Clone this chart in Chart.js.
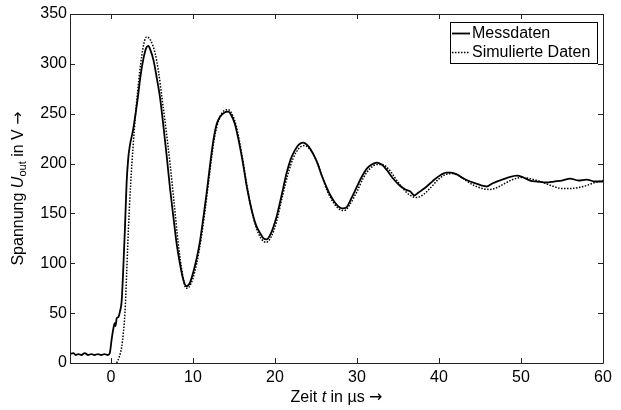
<!DOCTYPE html>
<html><head><meta charset="utf-8">
<script src="https://cdn.jsdelivr.net/npm/chart.js@4.4.1/dist/chart.umd.min.js"></script>
<style>html,body{margin:0;padding:0;background:#fff}#wrap{width:621px;height:410px}</style>
</head><body><div id="wrap"><canvas id="c" width="621" height="410"></canvas></div>
<script>
const xTicks = [0,10,20,30,40,50,60];
const yTicks = [0,50,100,150,200,250,300,350];
const seriesNames = ['Messdaten','Simulierte Daten'];
const xTitle = ['Zeit ', 't', ' in µs ', '→'];
const yTitle = ['Spannung ', 'U', 'out', ' in V ', '→'];

const measX = [-5,-4.6,-4.3,-4.0,-3.6,-3.2,-2.8,-2.4,-2.0,-1.6,-1.2,-0.8,-0.4,-0.15,0.1,0.3,0.45,0.55,0.7,0.9,1.1,1.3,1.5,1.7,1.9,2.1,2.3,2.7,3.0,3.3,3.6,3.95,4.3,4.55,4.8,5.2,5.6,6.0,6.4,6.8,7.2,7.6,8.0,8.4,8.8,9.2,9.6,10.0,10.45,10.85,11.3,11.7,12.1,12.5,12.9,13.3,13.8,14.3,14.7,15.1,15.6,16.1,16.6,17.2,17.7,18.2,18.6,19.0,19.5,20.2,20.8,21.4,21.9,22.4,22.9,23.45,24.0,24.7,25.2,25.7,26.2,26.7,27.3,27.9,28.3,28.7,29.3,30.0,30.6,31.2,31.8,32.4,33.0,33.6,34.4,35.2,35.9,36.5,37.0,37.5,38.2,38.9,39.6,40.3,40.9,41.5,42.2,43.0,43.8,44.5,45.2,45.8,46.5,47.4,48.4,49.5,50.3,51.1,52.0,53.1,54.0,55.0,56.0,57.0,58.0,59.0,60.0];
const measY = [9,10,8,9,8,10,8,9,8,9,8,9,8,10,25,35,40,37,45,46,52,62,95,135,180,205,218,234,250,268,288,305,316,318,314,303,285,265,237,207,175,147,120,100,84,77,80,90,105,122,148,173,200,224,240,247,251,252,248,240,222,200,175,152,138,130,125,124,130,147,168,190,204,213,219,221,218,209,200,188,178,169,161,156,155,156,165,177,187,195,199,201,199,194,185,178,174,172,168,171,175,180,185,189,191,191,189,185,182,180,178,177,180,183,186,188,186,183,182,181,182,183,185,183,184,182,182];

const simX = [0.7,1.0,1.3,1.5,1.7,1.9,2.1,2.4,2.7,3.0,3.5,4.0,4.35,4.8,5.4,5.8,6.2,6.7,7.2,7.7,8.2,8.7,9.15,9.5,10.0,10.45,11.0,11.5,12.1,12.6,13.2,13.8,14.3,14.8,15.3,15.9,16.5,17.1,17.7,18.3,18.9,19.5,20.2,20.9,21.6,22.2,22.9,23.6,24.3,25.0,25.7,26.4,27.2,27.9,28.5,29.2,30.0,30.8,31.6,32.4,33.1,33.9,34.7,35.6,36.5,37.3,38.1,39.0,39.9,40.8,41.6,42.4,43.3,44.3,45.3,46.2,47.1,48.0,49.0,50.0,51.0,52.0,53.0,54.0,55.0,56.0,57.0,58.0,59.0,60.0];
const simY = [0,6,16,30,50,88,130,180,218,250,292,320,327,324,310,292,267,235,200,160,120,90,75,76,85,100,125,155,195,225,245,253,254,249,237,212,182,155,136,125,121,126,142,167,190,205,215,218,214,204,188,172,160,154,153,160,172,186,195,199,199,194,185,175,168,166,169,176,184,189,190,188,183,178,175,174,176,180,184,186,185,183,180,177,175,175,176,178,181,183];

const FONT = '"Liberation Sans", Arial, Helvetica, sans-serif';
const ARROWFONT = '"DejaVu Sans", sans-serif';

function richText(ctx, parts, cx, cy, rotate) {
  ctx.save();
  ctx.translate(cx, cy);
  if (rotate) ctx.rotate(-Math.PI/2);
  let total = 0;
  const fontOf = p => (p.style||'') + ' ' + p.size + 'px ' + (p.fam || FONT);
  parts.forEach(p => { ctx.font = fontOf(p); p.w = ctx.measureText(p.t).width; total += p.w; });
  let x = -total/2;
  ctx.fillStyle = '#000';
  ctx.textBaseline = 'middle';
  ctx.textAlign = 'left';
  parts.forEach(p => { ctx.font = fontOf(p); ctx.fillText(p.t, x, p.dy||0); x += p.w; });
  ctx.restore();
}

const framePlugin = {
  id: 'frame',
  afterDatasetsDraw(chart) {
    const ctx = chart.ctx, a = chart.chartArea;
    const xs = chart.scales.x, ys = chart.scales.y;
    ctx.save();
    ctx.strokeStyle = '#222';
    ctx.lineWidth = 1;
    ctx.beginPath();
    ctx.rect(Math.round(a.left)+0.5, Math.round(a.top)+0.5, Math.round(a.right-a.left), Math.round(a.bottom-a.top));
    ctx.stroke();
    const L = 5;
    ctx.beginPath();
    xTicks.forEach(v => {
      const px = Math.round(xs.getPixelForValue(v)) + 0.5;
      ctx.moveTo(px, a.bottom); ctx.lineTo(px, a.bottom - L);
      ctx.moveTo(px, a.top); ctx.lineTo(px, a.top + L);
    });
    yTicks.forEach(v => {
      const py = Math.round(ys.getPixelForValue(v)) + 0.5;
      ctx.moveTo(a.left, py); ctx.lineTo(a.left + L, py);
      ctx.moveTo(a.right, py); ctx.lineTo(a.right - L, py);
    });
    ctx.stroke();

    // legend
    const lx = 450, ly = 22, lw = 147, lh = 41;
    ctx.fillStyle = '#fff';
    ctx.fillRect(lx, ly, lw, lh);
    ctx.strokeStyle = '#000';
    ctx.strokeRect(lx + 0.5, ly + 0.5, lw, lh);
    chart.data.datasets.forEach((ds, i) => {
      const y = ly + 11 + i * 19;
      ctx.beginPath();
      ctx.strokeStyle = '#000';
      ctx.lineWidth = ds.borderWidth;
      ctx.setLineDash(ds.borderDash || []);
      ctx.moveTo(lx + 2, y + 0.5); ctx.lineTo(lx + 20, y + 0.5);
      ctx.stroke();
      ctx.setLineDash([]);
      ctx.fillStyle = '#000';
      ctx.font = '16px ' + FONT;
      ctx.textBaseline = 'middle';
      ctx.textAlign = 'left';
      ctx.fillText(ds.label, lx + 22, y + 1);
    });
    ctx.restore();

    // axis titles
    richText(ctx, [
      {t: xTitle[0], size: 16}, {t: xTitle[1], style: 'italic', size: 16}, {t: xTitle[2], size: 16},
      {t: xTitle[3], size: 16, fam: ARROWFONT}
    ], (a.left + a.right)/2, 398, false);
    richText(ctx, [
      {t: yTitle[0], size: 16}, {t: yTitle[1], style: 'italic', size: 16},
      {t: yTitle[2], size: 11, dy: 4}, {t: yTitle[3], size: 16}, {t: yTitle[4], size: 16, fam: ARROWFONT}
    ], 19, (a.top + a.bottom)/2, true);
  }
};

new Chart(document.getElementById('c'), {
  type: 'line',
  data: {
    datasets: [
      { label: seriesNames[0], data: measX.map((x, i) => ({x, y: measY[i]})), borderColor: '#000', borderWidth: 1.8, pointRadius: 0, fill: false, cubicInterpolationMode: 'monotone' },
      { label: seriesNames[1], data: simX.map((x, i) => ({x, y: simY[i]})), borderColor: '#000', borderWidth: 1.5, borderDash: [1.5, 1.5], pointRadius: 0, fill: false, cubicInterpolationMode: 'monotone' }
    ]
  },
  options: {
    responsive: false,
    animation: false,
    events: [],
    layout: { padding: { left: 0, right: 18, top: 14, bottom: 0 } },
    plugins: { legend: { display: false }, tooltip: { enabled: false } },
    scales: {
      x: {
        type: 'linear', min: -5, max: 60,
        afterFit(s) { s.height = 47; },
        afterBuildTicks(s) { s.ticks = xTicks.map(v => ({value: v})); },
        grid: { display: false, drawTicks: false },
        border: { display: false },
        ticks: { color: '#000', font: { size: 16, family: FONT }, padding: 5, maxRotation: 0 }
      },
      y: {
        min: 0, max: 350,
        afterFit(s) { s.width = 70; },
        afterBuildTicks(s) { s.ticks = yTicks.map(v => ({value: v})); },
        grid: { display: false, drawTicks: false },
        border: { display: false },
        ticks: { color: '#000', font: { size: 16, family: FONT }, padding: 3 }
      }
    }
  },
  plugins: [framePlugin]
});
</script></body></html>
